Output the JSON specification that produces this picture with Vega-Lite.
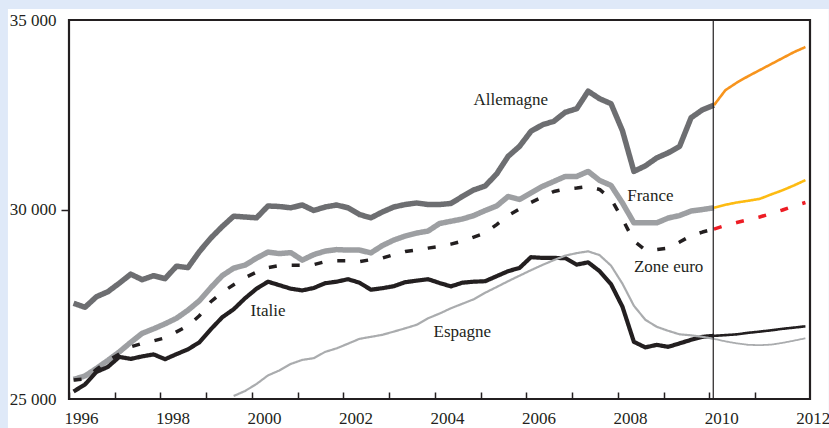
{
  "$schema": "https://vega.github.io/schema/vega-lite/v6.json",
  "width": 741,
  "height": 379,
  "autosize": "none",
  "padding": {"left": 69, "top": 20, "right": 19, "bottom": 29},
  "background": "#dfe9f8",
  "config": {
    "view": {"stroke": null},
    "font": "Liberation Serif"
  },
  "datasets": {
    "panel": [{"x1": 1994.665, "x2": 2012.61, "y1": 23000, "y2": 35291}],
    "frame": [{"x1": 1996, "x2": 2012.2, "y1": 25000, "y2": 35000}],
    "sep": [{"t": 2010.085}],
    "labels": [
      {"t": 2005.66, "v": 32900, "label": "Allemagne"},
      {"t": 2008.71, "v": 30344, "label": "France"},
      {"t": 2009.11, "v": 28492, "label": "Zone euro"},
      {"t": 2000.35, "v": 27330, "label": "Italie"},
      {"t": 2004.6, "v": 26772, "label": "Espagne"}
    ],
    "series": [
      {"t": 1996.1, "A": 27526, "F": 25516, "Z": 25503, "I": 25198},
      {"t": 1996.35, "A": 27421, "F": 25608, "Z": 25529, "I": 25384},
      {"t": 1996.6, "A": 27698, "F": 25807, "Z": 25780, "I": 25714},
      {"t": 1996.85, "A": 27831, "F": 26019, "Z": 26005, "I": 25847},
      {"t": 1997.1, "A": 28056, "F": 26243, "Z": 26190, "I": 26111},
      {"t": 1997.35, "A": 28294, "F": 26495, "Z": 26376, "I": 26058},
      {"t": 1997.6, "A": 28148, "F": 26733, "Z": 26468, "I": 26124},
      {"t": 1997.85, "A": 28254, "F": 26852, "Z": 26534, "I": 26177},
      {"t": 1998.1, "A": 28175, "F": 26984, "Z": 26614, "I": 26050},
      {"t": 1998.35, "A": 28505, "F": 27130, "Z": 26772, "I": 26183},
      {"t": 1998.6, "A": 28466, "F": 27341, "Z": 26931, "I": 26310},
      {"t": 1998.85, "A": 28889, "F": 27593, "Z": 27196, "I": 26495},
      {"t": 1999.1, "A": 29246, "F": 27937, "Z": 27566, "I": 26839},
      {"t": 1999.35, "A": 29550, "F": 28254, "Z": 27817, "I": 27156},
      {"t": 1999.6, "A": 29823, "F": 28452, "Z": 28016, "I": 27368, "E": 25079},
      {"t": 1999.85, "A": 29802, "F": 28532, "Z": 28201, "I": 27659, "E": 25212},
      {"t": 2000.1, "A": 29780, "F": 28717, "Z": 28347, "I": 27910, "E": 25397},
      {"t": 2000.35, "A": 30093, "F": 28876, "Z": 28466, "I": 28095, "E": 25622},
      {"t": 2000.6, "A": 30079, "F": 28836, "Z": 28519, "I": 28003, "E": 25754},
      {"t": 2000.85, "A": 30045, "F": 28862, "Z": 28532, "I": 27910, "E": 25926},
      {"t": 2001.1, "A": 30119, "F": 28664, "Z": 28532, "I": 27865, "E": 26032},
      {"t": 2001.35, "A": 29974, "F": 28810, "Z": 28545, "I": 27929, "E": 26077},
      {"t": 2001.6, "A": 30066, "F": 28902, "Z": 28624, "I": 28056, "E": 26243},
      {"t": 2001.85, "A": 30119, "F": 28942, "Z": 28651, "I": 28095, "E": 26336},
      {"t": 2002.1, "A": 30045, "F": 28929, "Z": 28651, "I": 28161, "E": 26460},
      {"t": 2002.35, "A": 29868, "F": 28929, "Z": 28624, "I": 28069, "E": 26587},
      {"t": 2002.6, "A": 29780, "F": 28855, "Z": 28677, "I": 27884, "E": 26640},
      {"t": 2002.85, "A": 29934, "F": 29048, "Z": 28717, "I": 27923, "E": 26693},
      {"t": 2003.1, "A": 30066, "F": 29193, "Z": 28810, "I": 27976, "E": 26778},
      {"t": 2003.35, "A": 30132, "F": 29299, "Z": 28889, "I": 28082, "E": 26865},
      {"t": 2003.6, "A": 30172, "F": 29378, "Z": 28929, "I": 28122, "E": 26958},
      {"t": 2003.85, "A": 30132, "F": 29431, "Z": 28981, "I": 28161, "E": 27130},
      {"t": 2004.1, "A": 30132, "F": 29630, "Z": 29021, "I": 28061, "E": 27254},
      {"t": 2004.35, "A": 30159, "F": 29690, "Z": 29087, "I": 27971, "E": 27394},
      {"t": 2004.6, "A": 30344, "F": 29749, "Z": 29167, "I": 28069, "E": 27513},
      {"t": 2004.85, "A": 30516, "F": 29841, "Z": 29272, "I": 28095, "E": 27632},
      {"t": 2005.1, "A": 30622, "F": 29974, "Z": 29378, "I": 28108, "E": 27804},
      {"t": 2005.35, "A": 30939, "F": 30093, "Z": 29603, "I": 28241, "E": 27955},
      {"t": 2005.6, "A": 31402, "F": 30344, "Z": 29841, "I": 28373, "E": 28108},
      {"t": 2005.85, "A": 31667, "F": 30265, "Z": 30013, "I": 28458, "E": 28254},
      {"t": 2006.1, "A": 32063, "F": 30437, "Z": 30185, "I": 28743, "E": 28399},
      {"t": 2006.35, "A": 32235, "F": 30608, "Z": 30331, "I": 28722, "E": 28537},
      {"t": 2006.6, "A": 32328, "F": 30741, "Z": 30476, "I": 28722, "E": 28664},
      {"t": 2006.85, "A": 32566, "F": 30873, "Z": 30542, "I": 28717, "E": 28783},
      {"t": 2007.1, "A": 32659, "F": 30873, "Z": 30569, "I": 28545, "E": 28849},
      {"t": 2007.35, "A": 33122, "F": 31005, "Z": 30608, "I": 28606, "E": 28897},
      {"t": 2007.6, "A": 32923, "F": 30767, "Z": 30529, "I": 28373, "E": 28796},
      {"t": 2007.85, "A": 32791, "F": 30635, "Z": 30278, "I": 28029, "E": 28519},
      {"t": 2008.1, "A": 32077, "F": 30172, "Z": 29749, "I": 27434, "E": 28042},
      {"t": 2008.35, "A": 31005, "F": 29648, "Z": 29167, "I": 26508, "E": 27460},
      {"t": 2008.6, "A": 31151, "F": 29648, "Z": 28929, "I": 26362, "E": 27090},
      {"t": 2008.85, "A": 31362, "F": 29648, "Z": 28942, "I": 26429, "E": 26905},
      {"t": 2009.1, "A": 31495, "F": 29775, "Z": 28981, "I": 26376, "E": 26799},
      {"t": 2009.35, "A": 31667, "F": 29841, "Z": 29140, "I": 26468, "E": 26706},
      {"t": 2009.6, "A": 32421, "F": 29960, "Z": 29312, "I": 26561, "E": 26680},
      {"t": 2009.85, "A": 32632, "F": 30000, "Z": 29405, "I": 26640, "E": 26640},
      {"t": 2010.1, "A": 32751, "F": 30045, "Z": 29484, "I": 26667, "E": 26587, "A2": 32751, "F2": 30045, "Z2": 29484, "I2": 26667, "E2": 26587},
      {"t": 2010.35, "A2": 33148, "F2": 30124, "Z2": 29577, "I2": 26685, "E2": 26521},
      {"t": 2010.6, "A2": 33347, "F2": 30185, "Z2": 29656, "I2": 26706, "E2": 26468},
      {"t": 2010.85, "A2": 33519, "F2": 30230, "Z2": 29730, "I2": 26746, "E2": 26429},
      {"t": 2011.1, "A2": 33677, "F2": 30280, "Z2": 29802, "I2": 26778, "E2": 26421},
      {"t": 2011.35, "A2": 33836, "F2": 30397, "Z2": 29894, "I2": 26812, "E2": 26434},
      {"t": 2011.6, "A2": 33995, "F2": 30508, "Z2": 29987, "I2": 26852, "E2": 26481},
      {"t": 2011.85, "A2": 34153, "F2": 30635, "Z2": 30093, "I2": 26884, "E2": 26540},
      {"t": 2012.1, "A2": 34286, "F2": 30775, "Z2": 30185, "I2": 26918, "E2": 26601}
    ]
  },
  "layer": [
    {
      "data": {"name": "panel"},
      "mark": {"type": "rect", "fill": "#ffffff", "stroke": null},
      "encoding": {
        "x": {"field": "x1", "type": "quantitative", "scale": {"domain": [1996, 2012.2], "nice": false, "zero": false},
          "axis": {
            "title": null, "domain": false, "grid": false, "zindex": 1,
            "values": [1996, 1997, 1998, 1999, 2000, 2001, 2002, 2003, 2004, 2005, 2006, 2007, 2008, 2009, 2010, 2011, 2012],
            "tickSize": -7, "tickWidth": 1.5,
            "tickColor": {"condition": {"test": "datum.value >= 2012", "value": "transparent"}, "value": "#231f20"},
            "labelExpr": "datum.value % 2 === 0 ? datum.value + '' : ''",
            "labelFont": "Liberation Serif", "labelFontSize": 17, "labelColor": "#231f20",
            "labelOffset": 12, "labelPadding": 18, "labelOverlap": false, "labelFlush": false, "labelBound": false
          }},
        "x2": {"field": "x2"},
        "y": {"field": "y1", "type": "quantitative", "scale": {"domain": [25000, 35000], "nice": false, "zero": false},
          "axis": {
            "title": null, "domain": false, "grid": false, "zindex": 1,
            "values": [25000, 30000, 35000],
            "tickSize": 8, "tickWidth": 1.5,
            "tickColor": {"condition": {"test": "datum.value === 30000", "value": "#231f20"}, "value": "transparent"},
            "labelExpr": "replace(format(datum.value, ','), ',', ' ')",
            "labelFont": "Liberation Serif", "labelFontSize": 17, "labelColor": "#231f20",
            "labelPadding": 5, "labelOverlap": false, "labelFlush": false, "labelBound": false
          }},
        "y2": {"field": "y2"}
      }
    },
    {
      "data": {"name": "series"},
      "transform": [
        {"fold": ["A", "F", "Z", "I", "E", "A2", "F2", "Z2", "I2", "E2"], "as": ["s", "v"]},
        {"filter": "isValid(datum.v)"}
      ],
      "mark": {"type": "line", "strokeJoin": "round"},
      "encoding": {
        "x": {"field": "t", "type": "quantitative"},
        "y": {"field": "v", "type": "quantitative"},
        "color": {"field": "s", "type": "nominal", "legend": null,
          "scale": {"domain": ["A", "F", "Z", "I", "E", "A2", "F2", "Z2", "I2", "E2"],
            "range": ["#6d6e71", "#9d9fa2", "#231f20", "#231f20", "#aaacae", "#f7941d", "#fdbb12", "#ed1c24", "#231f20", "#aaacae"]}},
        "strokeWidth": {"field": "s", "type": "nominal", "legend": null,
          "scale": {"type": "ordinal", "domain": ["A", "F", "Z", "I", "E", "A2", "F2", "Z2", "I2", "E2"],
            "range": [5.5, 5.5, 3.5, 4.2, 2.2, 2.6, 2.6, 3.5, 2.6, 1.8]}},
        "strokeDash": {"field": "s", "type": "nominal", "legend": null,
          "scale": {"domain": ["A", "F", "Z", "I", "E", "A2", "F2", "Z2", "I2", "E2"],
            "range": [[1, 0], [1, 0], [8, 15], [1, 0], [1, 0], [1, 0], [1, 0], [8, 15], [1, 0], [1, 0]]}}
      }
    },
    {
      "data": {"name": "sep"},
      "mark": {"type": "rule", "color": "#231f20", "strokeWidth": 1.2},
      "encoding": {
        "x": {"field": "t", "type": "quantitative"}
      }
    },
    {
      "data": {"name": "frame"},
      "mark": {"type": "rect", "fill": null, "fillOpacity": 0, "stroke": "#231f20", "strokeWidth": 2.2},
      "encoding": {
        "x": {"field": "x1", "type": "quantitative"},
        "x2": {"field": "x2"},
        "y": {"field": "y1", "type": "quantitative"},
        "y2": {"field": "y2"}
      }
    },
    {
      "data": {"name": "labels"},
      "mark": {"type": "text", "font": "Liberation Serif", "fontSize": 17, "color": "#231f20", "align": "center", "baseline": "middle"},
      "encoding": {
        "x": {"field": "t", "type": "quantitative"},
        "y": {"field": "v", "type": "quantitative"},
        "text": {"field": "label"}
      }
    }
  ]
}
